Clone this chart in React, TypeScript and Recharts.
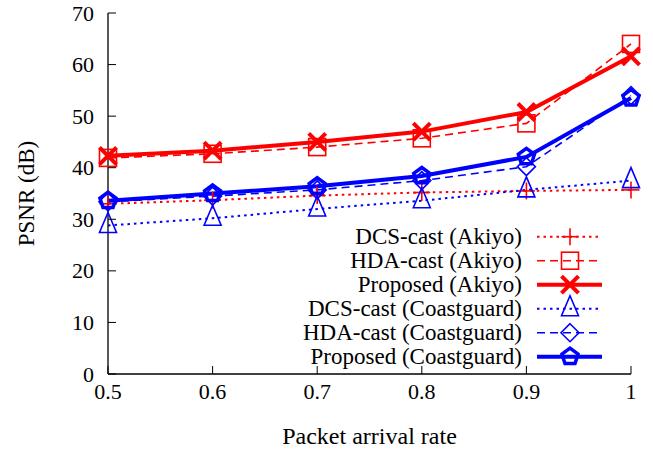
import React from 'react';
import { LineChart, Line, XAxis, YAxis } from 'recharts';

const xValues = [0.5, 0.6, 0.7, 0.8, 0.9, 1];
const dcsAkiyo = [33.0, 33.7, 34.6, 35.2, 35.5, 35.7];
const hdaAkiyo = [41.9, 42.7, 44.0, 45.7, 48.6, 64.0];
const propAkiyo = [42.3, 43.3, 45.0, 47.0, 50.8, 61.6];
const dcsCoast = [28.8, 30.2, 32.0, 33.6, 35.7, 37.5];
const hdaCoast = [33.4, 34.5, 35.7, 37.5, 40.2, 54.0];
const propCoast = [33.6, 35.0, 36.4, 38.4, 42.1, 53.5];

const xTicks = [0.5, 0.6, 0.7, 0.8, 0.9, 1];
const xTickLabels = ['0.5', '0.6', '0.7', '0.8', '0.9', '1'];
const yTicks = [0, 10, 20, 30, 40, 50, 60, 70];
const seriesNames = [
  'DCS-cast (Akiyo)',
  'HDA-cast (Akiyo)',
  'Proposed (Akiyo)',
  'DCS-cast (Coastguard)',
  'HDA-cast (Coastguard)',
  'Proposed (Coastguard)',
];
const seriesValues = [dcsAkiyo, hdaAkiyo, propAkiyo, dcsCoast, hdaCoast, propCoast];

type MK = 'plus' | 'square' | 'x' | 'triangle' | 'diamond' | 'pentagon';
const styles: { color: string; width: number; dash?: string; marker: MK; msw: number }[] = [
  { color: '#ff0000', width: 2, dash: '2.5 4', marker: 'plus', msw: 1.6 },
  { color: '#ff0000', width: 1.6, dash: '8 5', marker: 'square', msw: 1.6 },
  { color: '#ff0000', width: 4, marker: 'x', msw: 4 },
  { color: '#0000ff', width: 2, dash: '2.5 4', marker: 'triangle', msw: 1.6 },
  { color: '#0000ff', width: 1.6, dash: '8 5', marker: 'diamond', msw: 1.6 },
  { color: '#0000ff', width: 4, marker: 'pentagon', msw: 3.5 },
];

const data = xValues.map((x, i) => {
  const row: Record<string, number> = { x };
  seriesValues.forEach((vals, s) => {
    row['s' + s] = vals[i];
  });
  return row;
});

const W = 653;
const H = 453;
const PLOT = { left: 108, right: 631, top: 13, bottom: 374 };
const FONT = 'Liberation Serif';
const TICK = 8;

function Marker({ kind, cx, cy, color, sw }: { kind: MK; cx: number; cy: number; color: string; sw: number }) {
  const common = { fill: 'none', stroke: color, strokeWidth: sw };
  switch (kind) {
    case 'plus':
      return (
        <g {...common}>
          <line x1={cx - 8.5} x2={cx + 8.5} y1={cy} y2={cy} />
          <line x1={cx} x2={cx} y1={cy - 8.5} y2={cy + 8.5} />
        </g>
      );
    case 'square':
      return <rect x={cx - 8.5} y={cy - 8.5} width={17} height={17} {...common} />;
    case 'x':
      return (
        <g {...common}>
          <line x1={cx - 8.5} x2={cx + 8.5} y1={cy - 8.5} y2={cy + 8.5} />
          <line x1={cx - 8.5} x2={cx + 8.5} y1={cy + 8.5} y2={cy - 8.5} />
        </g>
      );
    case 'triangle':
      return <polygon points={`${cx},${cy - 13} ${cx - 8.5},${cy + 7} ${cx + 8.5},${cy + 7}`} {...common} />;
    case 'diamond':
      return <polygon points={`${cx},${cy - 9} ${cx + 9},${cy} ${cx},${cy + 9} ${cx - 9},${cy}`} {...common} />;
    case 'pentagon': {
      const r = 8.5;
      const pts = [0, 1, 2, 3, 4]
        .map((k) => {
          const a = -Math.PI / 2 + (k * 2 * Math.PI) / 5;
          return `${cx + r * Math.cos(a)},${cy + r * Math.sin(a)}`;
        })
        .join(' ');
      return <polygon points={pts} {...common} strokeLinejoin="miter" />;
    }
  }
  return null;
}

const BottomTick = (props: any) => {
  const { x, payload } = props;
  const idx = xTicks.indexOf(payload.value);
  return (
    <g>
      <line x1={x} x2={x} y1={PLOT.bottom} y2={PLOT.bottom - TICK} stroke="#000" strokeWidth={1} />
      <text x={x} y={PLOT.bottom + 25} textAnchor="middle" fontFamily={FONT} fontSize={22} fill="#000">
        {idx >= 0 ? xTickLabels[idx] : payload.value}
      </text>
    </g>
  );
};
const TopTick = (props: any) => {
  const { x } = props;
  return <line x1={x} x2={x} y1={PLOT.top} y2={PLOT.top + TICK} stroke="#000" strokeWidth={1} />;
};
const LeftTick = (props: any) => {
  const { y, payload } = props;
  return (
    <g>
      <line x1={PLOT.left} x2={PLOT.left + TICK} y1={y} y2={y} stroke="#000" strokeWidth={1} />
      <text x={PLOT.left - 14} y={y + 7.5} textAnchor="end" fontFamily={FONT} fontSize={22} fill="#000">
        {payload.value}
      </text>
    </g>
  );
};
const RightTick = (props: any) => {
  const { y } = props;
  return <line x1={PLOT.right} x2={PLOT.right - TICK} y1={y} y2={y} stroke="#000" strokeWidth={1} />;
};

const LEG = { textRight: 522, lineX1: 537, lineX2: 602, markX: 570, y0: 236.7, dy: 24 };

function LegendOverlay() {
  return (
    <svg width={W} height={H} style={{ position: 'absolute', left: 0, top: 0, pointerEvents: 'none' }}>
      {seriesNames.map((name, i) => {
        const st = styles[i];
        const y = LEG.y0 + i * LEG.dy;
        return (
          <g key={name}>
            <text x={LEG.textRight} y={y + 7.5} textAnchor="end" fontFamily={FONT} fontSize={23} fill="#000">
              {name}
            </text>
            <line
              x1={LEG.lineX1}
              x2={LEG.lineX2}
              y1={y}
              y2={y}
              stroke={st.color}
              strokeWidth={st.width}
              strokeDasharray={st.dash}
            />
            <Marker kind={st.marker} cx={LEG.markX} cy={y} color={st.color} sw={st.msw} />
          </g>
        );
      })}
    </svg>
  );
}

export default function App() {
  return (
    <div style={{ position: 'absolute', left: 0, top: 0, width: W, height: H, background: '#fff' }}>
      <LineChart
        width={W}
        height={H}
        data={data}
        margin={{ top: PLOT.top, right: W - PLOT.right, bottom: 0, left: 0 }}
      >
        <XAxis
          dataKey="x"
          type="number"
          domain={[0.5, 1]}
          ticks={xTicks}
          height={H - PLOT.bottom}
          tick={<BottomTick />}
          tickLine={false}
          axisLine={{ stroke: '#000', strokeWidth: 1.3 }}
          interval={0}
          label={{ value: 'Packet arrival rate', position: 'insideBottom', offset: 9, fontFamily: FONT, fontSize: 24, fill: '#000' }}
        />
        <XAxis
          xAxisId="top"
          orientation="top"
          dataKey="x"
          type="number"
          domain={[0.5, 1]}
          ticks={xTicks}
          height={0}
          tick={<TopTick />}
          tickLine={false}
          axisLine={{ stroke: '#000', strokeWidth: 1.3 }}
          interval={0}
        />
        <YAxis
          type="number"
          domain={[0, 70]}
          ticks={yTicks}
          width={PLOT.left}
          tick={<LeftTick />}
          tickLine={false}
          axisLine={{ stroke: '#000', strokeWidth: 1.3 }}
          interval={0}
          label={{ value: 'PSNR (dB)', angle: -90, position: 'insideLeft', offset: 26, fontFamily: FONT, fontSize: 23, fill: '#000', style: { textAnchor: 'middle' } }}
        />
        <YAxis
          yAxisId="right"
          orientation="right"
          type="number"
          domain={[0, 70]}
          ticks={yTicks}
          width={0}
          tick={<RightTick />}
          tickLine={false}
          axisLine={{ stroke: '#000', strokeWidth: 1.3 }}
          interval={0}
        />
        {styles.map((st, i) => (
          <Line
            key={'s' + i}
            dataKey={'s' + i}
            name={seriesNames[i]}
            type="linear"
            stroke={st.color}
            strokeWidth={st.width}
            strokeDasharray={st.dash}
            isAnimationActive={false}
            activeDot={false}
            dot={(p: any) => (
              <Marker key={`d${i}-${p.index}`} kind={st.marker} cx={p.cx} cy={p.cy} color={st.color} sw={st.msw} />
            )}
          />
        ))}
      </LineChart>
      <LegendOverlay />
    </div>
  );
}
